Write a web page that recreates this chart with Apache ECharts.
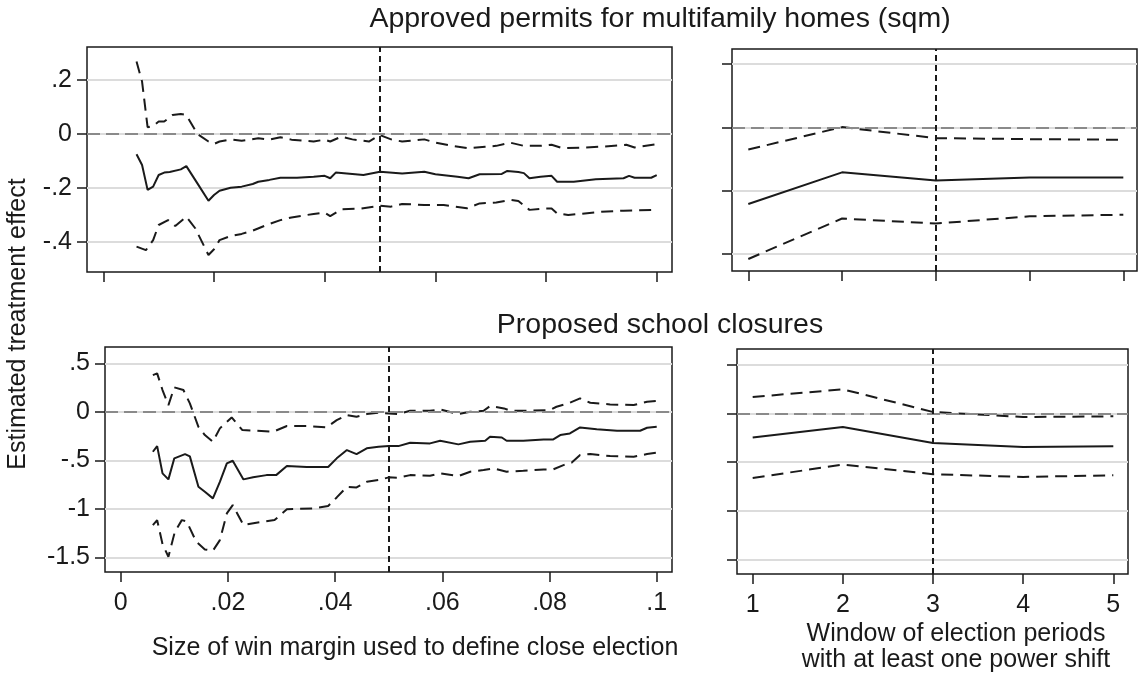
<!DOCTYPE html>
<html>
<head>
<meta charset="utf-8">
<script src="https://cdn.jsdelivr.net/npm/echarts@6/dist/echarts.min.js"></script>
<style>html,body{margin:0;padding:0;background:#fff}#c{width:1140px;height:673px}</style>
</head>
<body>
<div id="c"></div>
<script>
// ---------- data ----------
const marginTicks = [0, 0.02, 0.04, 0.06, 0.08, 0.1];
const windowTicks = [1, 2, 3, 4, 5];
const permitsTicks = [-0.4, -0.2, 0, 0.2];
const closuresTicks = [-1.5, -1, -0.5, 0, 0.5];

const panelTitles = ['Approved permits for multifamily homes (sqm)', 'Proposed school closures'];
const yTitle = 'Estimated treatment effect';
const xTitleLeft = 'Size of win margin used to define close election';
const xTitleRight = ['Window of election periods', 'with at least one power shift'];

// Permits: win-margin panel [margin, value]
const permitsMarginEst = [[0.006,-0.075],[0.007,-0.115],[0.008,-0.207],[0.009,-0.195],[0.010,-0.152],[0.011,-0.143],[0.012,-0.141],[0.014,-0.131],[0.015,-0.119],[0.017,-0.183],[0.019,-0.247],[0.020,-0.226],[0.021,-0.210],[0.023,-0.199],[0.025,-0.195],[0.027,-0.185],[0.028,-0.177],[0.030,-0.170],[0.032,-0.162],[0.035,-0.162],[0.038,-0.158],[0.040,-0.155],[0.041,-0.164],[0.042,-0.143],[0.044,-0.146],[0.047,-0.152],[0.050,-0.140],[0.054,-0.146],[0.058,-0.140],[0.060,-0.149],[0.064,-0.158],[0.066,-0.164],[0.068,-0.149],[0.072,-0.148],[0.073,-0.137],[0.075,-0.141],[0.076,-0.145],[0.077,-0.164],[0.079,-0.158],[0.081,-0.155],[0.082,-0.177],[0.085,-0.177],[0.089,-0.168],[0.094,-0.164],[0.095,-0.155],[0.096,-0.162],[0.099,-0.162],[0.100,-0.152]];
const permitsMarginUpper = [[0.006,0.268],[0.007,0.194],[0.008,0.025],[0.009,0.030],[0.010,0.046],[0.011,0.046],[0.0125,0.070],[0.014,0.074],[0.015,0.070],[0.017,0.000],[0.019,-0.028],[0.020,-0.037],[0.021,-0.028],[0.023,-0.020],[0.025,-0.025],[0.028,-0.016],[0.030,-0.021],[0.032,-0.012],[0.034,-0.021],[0.038,-0.028],[0.040,-0.021],[0.041,-0.028],[0.043,-0.010],[0.045,-0.020],[0.048,-0.028],[0.050,-0.004],[0.052,-0.020],[0.054,-0.028],[0.058,-0.020],[0.060,-0.032],[0.063,-0.044],[0.066,-0.053],[0.069,-0.047],[0.071,-0.044],[0.0735,-0.032],[0.076,-0.044],[0.079,-0.044],[0.081,-0.040],[0.083,-0.053],[0.087,-0.050],[0.090,-0.047],[0.0945,-0.040],[0.096,-0.050],[0.100,-0.038]];
const permitsMarginLower = [[0.006,-0.417],[0.0077,-0.430],[0.009,-0.393],[0.010,-0.337],[0.0117,-0.319],[0.013,-0.341],[0.015,-0.306],[0.0166,-0.349],[0.019,-0.448],[0.020,-0.427],[0.021,-0.393],[0.023,-0.378],[0.025,-0.370],[0.027,-0.358],[0.0295,-0.337],[0.032,-0.319],[0.034,-0.309],[0.038,-0.296],[0.040,-0.291],[0.041,-0.304],[0.043,-0.279],[0.0465,-0.276],[0.050,-0.266],[0.052,-0.269],[0.054,-0.259],[0.058,-0.263],[0.0615,-0.263],[0.0657,-0.275],[0.068,-0.257],[0.071,-0.254],[0.0735,-0.244],[0.075,-0.248],[0.077,-0.281],[0.0795,-0.276],[0.081,-0.276],[0.082,-0.294],[0.084,-0.300],[0.087,-0.294],[0.090,-0.288],[0.094,-0.284],[0.100,-0.281]];

// Closures: win-margin panel [margin, value]
const closuresMarginEst = [[0.006,-0.412],[0.0068,-0.354],[0.0078,-0.635],[0.0089,-0.697],[0.010,-0.48],[0.012,-0.436],[0.0129,-0.46],[0.0145,-0.773],[0.0157,-0.825],[0.0172,-0.893],[0.0185,-0.722],[0.0198,-0.532],[0.0209,-0.505],[0.0229,-0.697],[0.0247,-0.676],[0.0272,-0.653],[0.029,-0.653],[0.031,-0.56],[0.0347,-0.57],[0.0387,-0.57],[0.0403,-0.48],[0.0422,-0.395],[0.044,-0.436],[0.0459,-0.377],[0.0481,-0.361],[0.050,-0.354],[0.0518,-0.354],[0.054,-0.32],[0.0577,-0.326],[0.0596,-0.299],[0.063,-0.336],[0.0652,-0.31],[0.068,-0.299],[0.0689,-0.258],[0.0711,-0.265],[0.072,-0.299],[0.0751,-0.299],[0.0789,-0.285],[0.0807,-0.285],[0.082,-0.24],[0.0838,-0.223],[0.0857,-0.161],[0.0888,-0.181],[0.0926,-0.196],[0.0969,-0.196],[0.0982,-0.165],[0.100,-0.155]];
const closuresMarginUpper = [[0.006,0.378],[0.0068,0.396],[0.0078,0.224],[0.0089,0.069],[0.010,0.252],[0.0117,0.224],[0.0129,0.087],[0.0145,-0.155],[0.0157,-0.24],[0.0172,-0.309],[0.0185,-0.171],[0.0207,-0.058],[0.0227,-0.189],[0.0253,-0.196],[0.0284,-0.206],[0.031,-0.147],[0.0347,-0.147],[0.0384,-0.161],[0.0403,-0.086],[0.0422,-0.034],[0.044,-0.051],[0.0459,-0.024],[0.0481,-0.01],[0.050,-0.017],[0.0518,-0.024],[0.054,0.01],[0.0577,0.01],[0.0596,0.024],[0.063,-0.024],[0.0652,0.0],[0.0677,0.01],[0.0689,0.059],[0.0715,0.035],[0.0727,0.01],[0.0758,0.01],[0.0801,0.018],[0.0813,0.052],[0.0838,0.093],[0.0857,0.138],[0.0876,0.093],[0.0913,0.076],[0.0957,0.069],[0.0982,0.103],[0.100,0.113]];
const closuresMarginLower = [[0.006,-1.168],[0.0068,-1.117],[0.0078,-1.364],[0.0089,-1.495],[0.0101,-1.237],[0.0114,-1.117],[0.0123,-1.13],[0.0141,-1.34],[0.0157,-1.419],[0.0172,-1.433],[0.0185,-1.323],[0.0198,-1.048],[0.0209,-0.962],[0.0229,-1.168],[0.0253,-1.144],[0.0287,-1.117],[0.031,-1.006],[0.036,-0.996],[0.0387,-0.972],[0.0403,-0.883],[0.0422,-0.773],[0.044,-0.78],[0.0459,-0.722],[0.0481,-0.704],[0.050,-0.676],[0.0518,-0.68],[0.054,-0.653],[0.0577,-0.66],[0.0596,-0.635],[0.063,-0.663],[0.0652,-0.618],[0.0677,-0.601],[0.0695,-0.584],[0.072,-0.618],[0.0751,-0.608],[0.0789,-0.594],[0.0807,-0.594],[0.0826,-0.55],[0.0841,-0.526],[0.0857,-0.446],[0.0876,-0.436],[0.0913,-0.457],[0.0957,-0.464],[0.0982,-0.436],[0.100,-0.422]];

// Window panels (x = windowTicks)
const permitsWinEst   = [-0.242, -0.142, -0.168, -0.158, -0.158];
const permitsWinUpper = [-0.070,  0.001, -0.034, -0.037, -0.039];
const permitsWinLower = [-0.416, -0.288, -0.304, -0.281, -0.276];
const closuresWinEst   = [-0.247, -0.137, -0.302, -0.343, -0.336];
const closuresWinUpper = [ 0.171,  0.250,  0.017, -0.035, -0.028];
const closuresWinLower = [-0.662, -0.525, -0.624, -0.652, -0.635];

const marginCutoff = 0.05;
const windowCutoff = 3;

// ---------- chart ----------
const FONT = '"Liberation Sans", Arial, sans-serif';
const INK = '#1a1a1a';
const fmt = v => String(+(+v).toFixed(4)).replace(/^(-?)0\./, '$1.');
const pairs = (xs, ys) => xs.map((x, i) => [x, ys[i]]);

function xAxis(gi, min, max, ticks, labels) {
  return {
    type: 'value', gridIndex: gi, min, max, position: 'bottom',
    axisLine: {show: false, onZero: false},
    axisTick: {show: true, inside: false, length: 10, customValues: ticks, lineStyle: {color: INK, width: 1.5}},
    axisLabel: {show: labels, customValues: ticks, formatter: fmt, fontSize: 25, color: INK, margin: 19, fontFamily: FONT},
    splitLine: {show: false}
  };
}
function yAxis(gi, min, max, ticks, labels) {
  return {
    type: 'value', gridIndex: gi, min, max, position: 'left',
    axisLine: {show: false, onZero: false},
    axisTick: {show: true, inside: false, length: 10, customValues: ticks, lineStyle: {color: INK, width: 1.5}},
    axisLabel: {show: labels, customValues: ticks, formatter: fmt, fontSize: 25, color: INK, margin: 15, fontFamily: FONT},
    splitLine: {show: true, lineStyle: {color: '#dcdcdc', width: 2}}
  };
}
function ref(cutoffX) {
  return {
    silent: true, symbol: ['none', 'none'], label: {show: false}, animation: false,
    data: [
      {yAxis: 0, lineStyle: {color: '#8a8a8a', width: 2, type: [13, 6]}},
      {xAxis: cutoffX, lineStyle: {color: INK, width: 2, type: [6, 4]}}
    ]
  };
}
function line(gi, data, dashed, mark) {
  const s = {
    type: 'line', xAxisIndex: gi, yAxisIndex: gi, data,
    symbol: 'none', showSymbol: false, silent: true,
    lineStyle: {color: INK, width: 2, type: dashed ? [12, 7] : 'solid'},
    z: 3
  };
  if (mark) s.markLine = mark;
  return s;
}

const grids = [
  {left: 87,  top: 47,  width: 585, height: 225},
  {left: 732, top: 49,  width: 405, height: 222},
  {left: 105, top: 347, width: 567, height: 225},
  {left: 737, top: 349, width: 391, height: 225}
].map(g => Object.assign(g, {show: true, borderColor: INK, borderWidth: 1.5, backgroundColor: '#fff'}));

const txt = (text, x, y, size, rot) => ({
  type: 'text', x, y, rotation: rot || 0,
  style: {text, font: size + 'px ' + FONT, fill: INK, align: 'center', verticalAlign: 'middle'}
});

const option = {
  animation: false,
  backgroundColor: '#fff',
  grid: grids,
  xAxis: [
    xAxis(0, -0.00295, 0.10276, marginTicks, false),
    xAxis(1, 0.826, 5.146, windowTicks, false),
    xAxis(2, -0.00293, 0.10285, marginTicks, true),
    xAxis(3, 0.826, 5.163, windowTicks, true)
  ],
  yAxis: [
    yAxis(0, -0.511, 0.322, permitsTicks, true),
    yAxis(1, -0.454, 0.248, permitsTicks, false),
    yAxis(2, -1.652, 0.668, closuresTicks, true),
    yAxis(3, -1.651, 0.665, closuresTicks, false)
  ],
  series: [
    line(0, permitsMarginEst, false, ref(marginCutoff)),
    line(0, permitsMarginUpper, true),
    line(0, permitsMarginLower, true),
    line(1, pairs(windowTicks, permitsWinEst), false, ref(windowCutoff)),
    line(1, pairs(windowTicks, permitsWinUpper), true),
    line(1, pairs(windowTicks, permitsWinLower), true),
    line(2, closuresMarginEst, false, ref(marginCutoff)),
    line(2, closuresMarginUpper, true),
    line(2, closuresMarginLower, true),
    line(3, pairs(windowTicks, closuresWinEst), false, ref(windowCutoff)),
    line(3, pairs(windowTicks, closuresWinUpper), true),
    line(3, pairs(windowTicks, closuresWinLower), true)
  ],
  graphic: [
    txt(panelTitles[0], 660, 19, 28.5),
    txt(panelTitles[1], 660, 325, 28.5),
    txt(yTitle, 18, 324, 25, Math.PI / 2),
    txt(xTitleLeft, 415, 648, 25),
    txt(xTitleRight[0], 956, 634, 25),
    txt(xTitleRight[1], 956, 660, 25)
  ]
};

const chart = echarts.init(document.getElementById('c'), null, {renderer: 'canvas'});
chart.setOption(option);
</script>
</body>
</html>
